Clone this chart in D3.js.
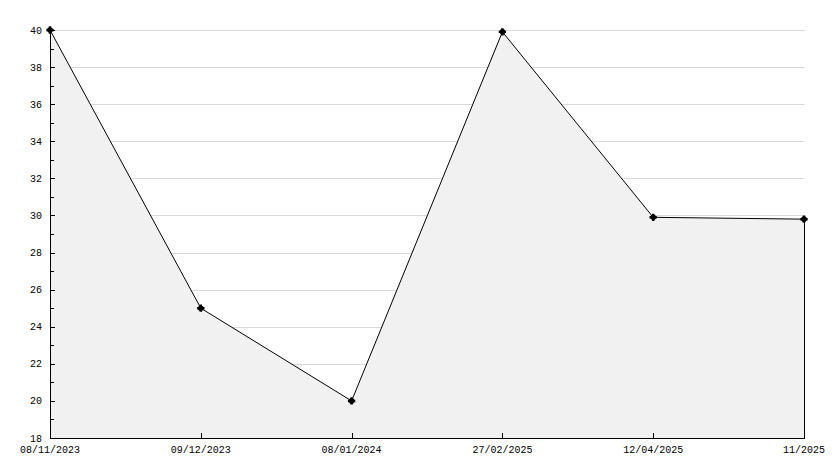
<!DOCTYPE html>
<html><head><meta charset="utf-8">
<script src="https://cdn.jsdelivr.net/npm/d3@7"></script>
<style>body{margin:0;background:#fff}svg{display:block}</style>
</head><body><svg id="c" width="834" height="468"></svg>
<script>
const categories = ["08/11/2023","09/12/2023","08/01/2024","27/02/2025","12/04/2025","11/2025"];
const values = [40, 25, 20, 39.9, 29.9, 29.8];
const yTicks = [18,20,22,24,26,28,30,32,34,36,38,40];
const yMinorTicks = [19,21,23,25,27,29,31,33,35,37,39];

(function(){
const svg = d3.select("#c");
const pLeft = 50, pRight = 804, pTop = 30, pBottom = 438;
const x = d3.scalePoint().domain(categories).range([pLeft, pRight]);
const y = d3.scaleLinear().domain([18, 40]).range([pBottom, pTop]);
const font = "'Liberation Mono', 'DejaVu Sans Mono', monospace";

svg.append("g").selectAll("line").data(yTicks.filter(d => d > 18)).join("line")
  .attr("x1", pLeft).attr("x2", pRight + 0.5)
  .attr("y1", d => Math.round(y(d)) + 0.5).attr("y2", d => Math.round(y(d)) + 0.5)
  .attr("stroke", "#d9d9d9").attr("stroke-width", 1);

const data = categories.map((c, i) => ({c, v: values[i]}));

svg.append("path").datum(data)
  .attr("d", d3.area().x(d => x(d.c)).y0(pBottom).y1(d => y(d.v)))
  .attr("fill", "#f1f1f1");

svg.append("path").datum(data)
  .attr("d", d3.line().x(d => x(d.c)).y(d => y(d.v)))
  .attr("fill", "none").attr("stroke", "#000").attr("stroke-width", 1);

svg.append("line").attr("x1", pRight + 0.5).attr("x2", pRight + 0.5)
  .attr("y1", y(values[values.length - 1])).attr("y2", pBottom)
  .attr("stroke", "#000");

svg.append("line").attr("x1", pLeft + 0.5).attr("x2", pLeft + 0.5).attr("y1", pTop).attr("y2", pBottom + 0.5).attr("stroke", "#000");
svg.append("g").selectAll("line").data(yTicks).join("line")
  .attr("x1", pLeft).attr("x2", pLeft + 5)
  .attr("y1", d => Math.round(y(d)) + 0.5).attr("y2", d => Math.round(y(d)) + 0.5)
  .attr("stroke", "#000");
svg.append("g").selectAll("line").data(yMinorTicks).join("line")
  .attr("x1", pLeft).attr("x2", pLeft + 4)
  .attr("y1", d => Math.round(y(d)) + 0.5).attr("y2", d => Math.round(y(d)) + 0.5)
  .attr("stroke", "#000");
svg.append("g").selectAll("text").data(yTicks).join("text")
  .attr("x", 42).attr("y", d => y(d))
  .attr("dy", "0.35em").attr("text-anchor", "end")
  .attr("font-family", font).attr("font-size", 10).attr("fill", "#000")
  .text(d => d);

svg.append("line").attr("x1", pLeft).attr("x2", pRight + 1).attr("y1", pBottom + 0.5).attr("y2", pBottom + 0.5).attr("stroke", "#000");
svg.append("g").selectAll("line").data(categories.slice(1, -1)).join("line")
  .attr("x1", d => Math.round(x(d)) + 0.5).attr("x2", d => Math.round(x(d)) + 0.5)
  .attr("y1", pBottom - 5).attr("y2", pBottom)
  .attr("stroke", "#000");
svg.append("g").selectAll("text").data(categories).join("text")
  .attr("x", d => x(d)).attr("y", 449).attr("dy", "0.35em")
  .attr("text-anchor", "middle")
  .attr("font-family", font).attr("font-size", 10).attr("fill", "#000")
  .text(d => d);

const g = svg.append("g");
data.forEach(d => {
  const cx = x(d.c), cy = y(d.v);
  g.append("circle").attr("cx", cx).attr("cy", cy).attr("r", 2.8).attr("fill", "#000");
  g.append("path").attr("d", d3.symbol(d3.symbolCross, 30)()).attr("transform", `translate(${cx},${cy})`).attr("fill", "#000");
});
})();
</script></body></html>
